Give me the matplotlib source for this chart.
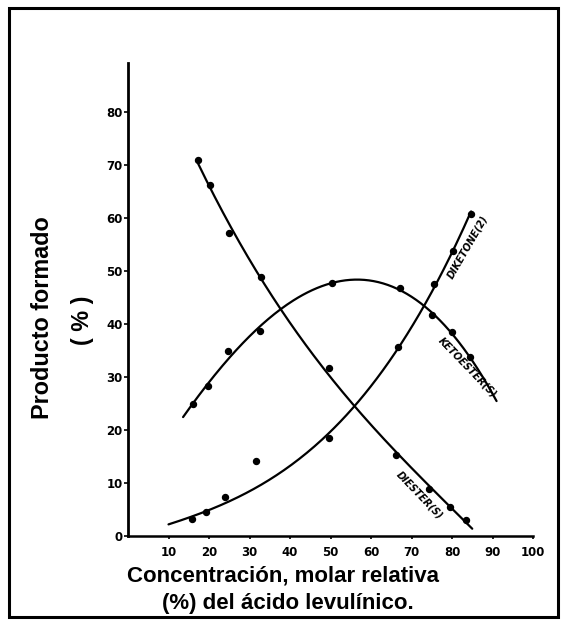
"""Producto formado vs concentración molar relativa del ácido levulínico."""

import numpy as np
import matplotlib
matplotlib.use("Agg")
import matplotlib.pyplot as plt
from matplotlib.patches import Rectangle

# ── Data ───────────────────────────────────────────────────────────
diester_x = [17.3, 20.2, 24.9, 32.8, 49.6, 66.2, 74.3, 79.5, 83.5]
diester_y = [71.0, 66.1, 57.1, 48.8, 31.6, 15.3, 8.9, 5.5, 3.0]

keto_x = [16.0, 19.8, 24.7, 32.6, 50.4, 67.2, 75.1, 80.0, 84.4]
keto_y = [24.9, 28.2, 34.8, 38.6, 47.8, 46.7, 41.6, 38.4, 33.7]

diketone_x = [15.8, 19.3, 24.0, 31.6, 49.6, 66.7, 75.6, 80.2, 84.7]
diketone_y = [3.2, 4.5, 7.3, 14.1, 18.5, 35.6, 47.6, 53.7, 60.8]
diketone_w = [1, 1, 1, 0, 1, 1, 1, 1, 1]   # stray point left out of the fit

# range covered by each fitted curve
diester_span = [17.3, 85.0]
keto_span = [13.6, 91.0]
diketone_span = [10.0, 84.7]

x_ticks = [10, 20, 30, 40, 50, 60, 70, 80, 90, 100]
y_ticks = [0, 10, 20, 30, 40, 50, 60, 70, 80]

W, H = 567, 627
fig = plt.figure(figsize=(W / 100, H / 100), dpi=100)

# outer frame
fig.patches.append(Rectangle((9 / W, 1 - 617 / H), 549 / W, 609 / H,
                             transform=fig.transFigure, fill=False,
                             lw=2.2, ec="black"))

ax = fig.add_axes([128 / W, 1 - 536 / H, 405 / W, 473 / H])
ax.set_xlim(0, 100)
ax.set_ylim(0, 89.2)


def fit_curve(xs, ys, span, w=None, deg=3):
    coef = np.polyfit(xs, ys, deg, w=w)
    xx = np.linspace(span[0], span[1], 200)
    return xx, np.polyval(coef, xx)


for xs, ys, span, w in [(diester_x, diester_y, diester_span, None),
                        (keto_x, keto_y, keto_span, None),
                        (diketone_x, diketone_y, diketone_span, diketone_w)]:
    cx, cy = fit_curve(xs, ys, span, w)
    ax.plot(cx, cy, color="black", lw=1.6, solid_capstyle="round")
    ax.plot(xs, ys, "o", color="black", ms=4.3)

# curve labels
lab = dict(fontsize=7, fontweight="bold", style="italic",
           ha="center", va="center", color="black")
ax.text(84.0, 54.5, "DIKETONE(2)", rotation=60, **lab)
ax.text(83.8, 31.8, "KETOESTER(S)", rotation=-46, **lab)
ax.text(72.0, 7.6, "DIESTER(S)", rotation=-46, **lab)

# axes styling
for side in ["top", "right"]:
    ax.spines[side].set_visible(False)
ax.spines["left"].set_linewidth(2.0)
ax.spines["bottom"].set_linewidth(1.8)
ax.set_xticks(x_ticks)
ax.set_yticks(y_ticks)
ax.tick_params(axis="y", direction="out", length=3, width=1.2, pad=1,
               labelsize=8.5)
ax.tick_params(axis="x", direction="out", length=2, width=1.2, pad=5,
               labelsize=8.5)
for t in ax.get_xticklabels() + ax.get_yticklabels():
    t.set_fontweight("bold")

# axis titles
title_font = dict(family="Liberation Sans", fontweight="bold")
fig.text(43 / W, 1 - 318 / H, "Producto formado", rotation=90,
         ha="center", va="center", fontsize=16.8, **title_font)
fig.text(82 / W, 1 - 320 / H, "( % )", rotation=90,
         ha="center", va="center", fontsize=16.8, **title_font)
fig.text(283 / W, 1 - 576 / H, "Concentración, molar relativa",
         ha="center", va="center", fontsize=16, **title_font)
fig.text(288 / W, 1 - 603 / H, "(%) del ácido levulínico.",
         ha="center", va="center", fontsize=16, **title_font)

fig.savefig("out.png", dpi=100)
